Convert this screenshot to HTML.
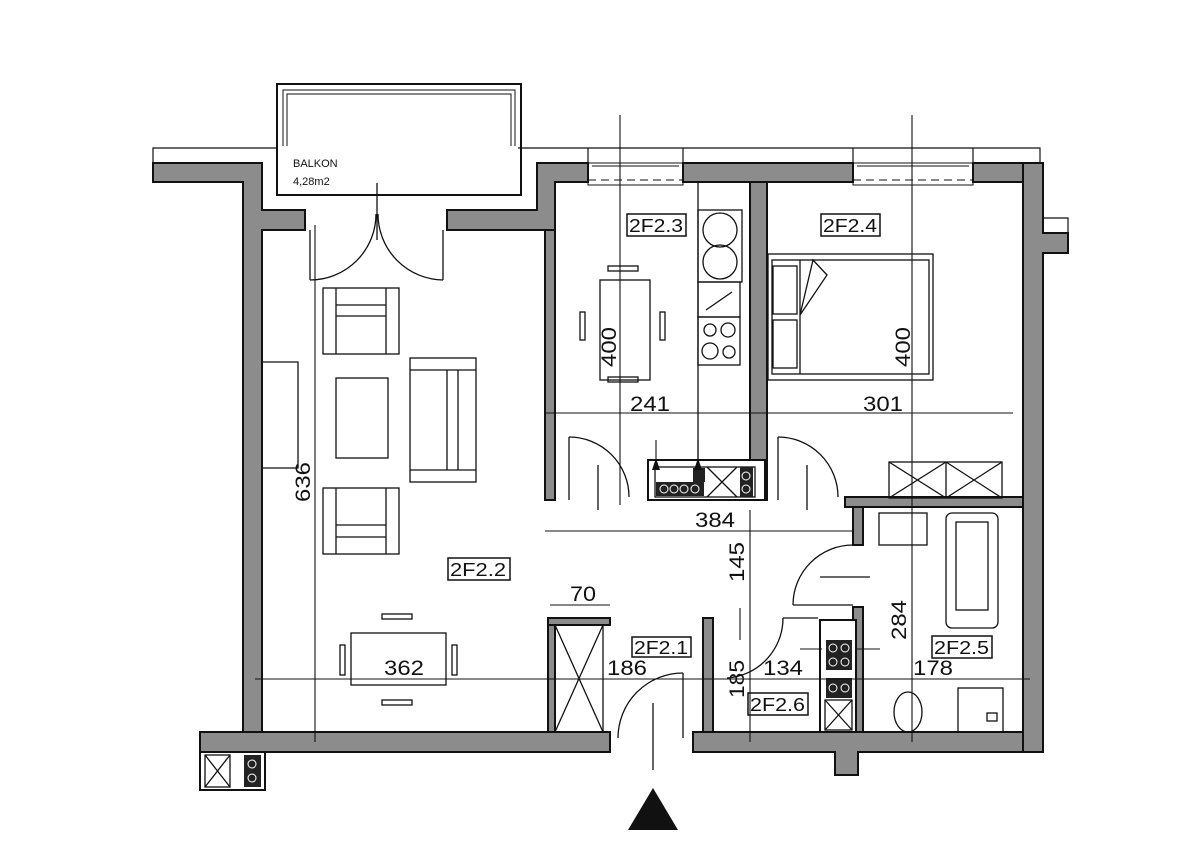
<!DOCTYPE html>
<html><head><meta charset="utf-8"><style>
html,body{margin:0;padding:0;background:#fff;}
svg{display:block;}
text{font-family:"Liberation Sans",sans-serif;fill:#111;}
</style></head><body>
<svg width="1200" height="862" viewBox="0 0 1200 862" xmlns="http://www.w3.org/2000/svg">
<g fill="none" stroke="#111" stroke-width="1.2">
  <polyline points="153,163 153,148 278,148"/>
  <line x1="518" y1="148" x2="588" y2="148"/>
  <line x1="588" y1="148" x2="683" y2="148"/><line x1="683" y1="148" x2="683" y2="163"/>
  <line x1="588" y1="148" x2="588" y2="163"/>
  <line x1="683" y1="148" x2="853" y2="148"/>
  <line x1="853" y1="148" x2="853" y2="163"/>
  <polyline points="853,148 1040,148 1040,218 1068,218 1068,233"/>
  <line x1="973" y1="148" x2="973" y2="163"/>
  <rect x="277" y="84" width="244" height="111" stroke-width="2"/>
  <polyline points="283,146 283,90 515,90 515,146" stroke-width="1"/>
  <polyline points="287,146 287,94 511,94 511,146" stroke-width="1"/>
</g>
<text x="293" y="167" font-size="11">BALKON</text>
<text x="293" y="185" font-size="11">4,28m2</text>

<g fill="#8c8c8c" stroke="#111" stroke-width="2">
  <polygon points="153,163 262,163 262,210 305,210 305,230 262,230 262,732 243,732 243,182 153,182"/>
  <polygon points="447,210 537,210 537,163 588,163 588,182 555,182 555,230 447,230"/>
  <rect x="683" y="163" width="170" height="19"/>
  <rect x="973" y="163" width="50" height="19"/>
  <polygon points="1023,163 1043,163 1043,233 1068,233 1068,253 1043,253 1043,752 1023,752"/>
  <rect x="750" y="182" width="17" height="318"/>
  <rect x="545" y="230" width="10" height="270"/>
  <rect x="200" y="732" width="410" height="20"/>
  <polygon points="693,732 1023,732 1023,752 858,752 858,775 835,775 835,752 693,752"/>
  <rect x="200" y="752" width="65" height="38" fill="#fff"/>
  <rect x="845" y="497" width="178" height="10"/>
  <rect x="853" y="507" width="10" height="38"/>
  <rect x="853" y="607" width="10" height="125"/>
  <rect x="548" y="618" width="62" height="7"/>
  <rect x="548" y="625" width="7" height="107"/>
  <rect x="703" y="618" width="10" height="114"/>
  <rect x="648" y="460" width="117" height="40" fill="#fff"/>
  <rect x="820" y="620" width="36" height="112" fill="#fff"/>
</g>
<g fill="none" stroke="#111" stroke-width="1">
  <rect x="588" y="163" width="95" height="22"/>
  <line x1="592" y1="166" x2="679" y2="166"/>
  <line x1="588" y1="180" x2="683" y2="180" stroke-dasharray="8,5"/>
  <rect x="853" y="163" width="120" height="22"/>
  <line x1="857" y1="166" x2="969" y2="166"/>
  <line x1="853" y1="180" x2="973" y2="180" stroke-dasharray="8,5"/>
</g>

<g fill="none" stroke="#111" stroke-width="1.3">
  <line x1="377" y1="183" x2="377" y2="240"/>
  <path d="M310,280 A66,66 0 0 0 376,214"/>
  <path d="M443,280 A66,66 0 0 1 378,214"/>
  <line x1="310" y1="230" x2="310" y2="280"/><line x1="443" y1="230" x2="443" y2="280"/>
  <rect x="323" y="288" width="76" height="66"/>
  <line x1="336" y1="288" x2="336" y2="354"/><line x1="386" y1="288" x2="386" y2="354"/>
  <line x1="336" y1="305" x2="386" y2="305"/><line x1="336" y1="316" x2="386" y2="316"/>
  <rect x="336" y="378" width="52" height="80"/>
  <rect x="410" y="358" width="66" height="124"/>
  <line x1="410" y1="370" x2="476" y2="370"/><line x1="410" y1="470" x2="476" y2="470"/>
  <line x1="447" y1="370" x2="447" y2="470"/><line x1="458" y1="370" x2="458" y2="470"/>
  <rect x="323" y="488" width="76" height="66"/>
  <line x1="336" y1="488" x2="336" y2="554"/><line x1="386" y1="488" x2="386" y2="554"/>
  <line x1="336" y1="525" x2="386" y2="525"/><line x1="336" y1="537" x2="386" y2="537"/>
  <polyline points="263,362 298,362 298,468 263,468"/>
  <rect x="351" y="633" width="95" height="52"/>
  <rect x="382" y="614" width="30" height="5"/><rect x="382" y="700" width="30" height="5"/>
  <rect x="340" y="645" width="5" height="30"/><rect x="452" y="645" width="5" height="30"/>
  <rect x="600" y="280" width="50" height="100"/>
  <rect x="608" y="266" width="30" height="5"/><rect x="608" y="377" width="30" height="5"/>
  <rect x="580" y="312" width="5" height="28"/><rect x="660" y="312" width="5" height="28"/>
  <line x1="698" y1="182" x2="698" y2="460"/>
  <rect x="698" y="210" width="44" height="72"/>
  <circle cx="720" cy="230" r="17"/><circle cx="720" cy="262" r="17"/>
  <rect x="698" y="282" width="42" height="35"/>
  <line x1="706" y1="310" x2="732" y2="292"/>
  <rect x="698" y="317" width="42" height="48"/>
  <circle cx="710" cy="330" r="6"/><circle cx="728" cy="330" r="7"/>
  <circle cx="710" cy="351" r="8"/><circle cx="729" cy="352" r="6"/>
  <rect x="768" y="254" width="165" height="126"/>
  <rect x="772" y="260" width="157" height="114"/>
  <line x1="800" y1="260" x2="800" y2="374"/>
  <rect x="773" y="266" width="24" height="48"/><rect x="773" y="320" width="24" height="48"/>
  <polyline points="800,315 813,260 827,275 800,315"/>
  <rect x="889" y="462" width="113" height="36"/>
  <line x1="946" y1="462" x2="946" y2="498"/>
  <path d="M889,462 L946,498 M946,462 L889,498 M946,462 L1002,498 M1002,462 L946,498"/>
  <path d="M569,437 A60,60 0 0 1 629,497"/>
  <line x1="569" y1="437" x2="569" y2="500"/>
  <line x1="598" y1="465" x2="598" y2="510"/>
  <path d="M778,437 A60,60 0 0 1 838,497"/>
  <line x1="778" y1="437" x2="778" y2="500"/>
  <line x1="807" y1="465" x2="807" y2="510"/>
  <path d="M853,545 A60,60 0 0 0 793,605"/>
  <line x1="793" y1="605" x2="853" y2="605"/>
  <line x1="820" y1="577" x2="870" y2="577"/>
  <rect x="879" y="513" width="48" height="32"/>
  <rect x="946" y="513" width="52" height="115" rx="6"/>
  <rect x="956" y="522" width="32" height="88"/>
  <ellipse cx="908" cy="712" rx="14" ry="20"/>
  <rect x="958" y="688" width="45" height="44"/>
  <rect x="987" y="713" width="10" height="8"/>
  <path d="M683,673 A65,65 0 0 0 618,738"/>
  <line x1="683" y1="673" x2="683" y2="738"/>
  <line x1="653" y1="703" x2="653" y2="770"/>
  <path d="M783,618 A60,60 0 0 1 727,678"/>
  <line x1="783" y1="618" x2="818" y2="618"/>
  <rect x="555" y="625" width="48" height="107"/>
  <path d="M555,625 L603,732 M603,625 L555,732"/>
  <rect x="655" y="467" width="100" height="30"/>
  <path d="M707,467 L737,497 M737,467 L707,497"/>
  <rect x="825" y="700" width="27" height="30"/>
  <path d="M825,700 L852,730 M852,700 L825,730"/>
  <rect x="205" y="755" width="25" height="32"/>
  <path d="M205,755 L230,787 M230,755 L205,787"/>
</g>
<g fill="#222">
  <rect x="656" y="482" width="48" height="14"/><rect x="693" y="468" width="12" height="14"/>
  <rect x="740" y="467" width="13" height="30"/>
  <rect x="826" y="640" width="26" height="30"/><rect x="826" y="678" width="26" height="20"/>
  <rect x="244" y="755" width="17" height="32"/>
</g>
<g fill="none" stroke="#fff" stroke-width="1">
  <circle cx="664" cy="489" r="4"/><circle cx="674" cy="489" r="4"/><circle cx="684" cy="489" r="4"/><circle cx="695" cy="489" r="4"/>
  <circle cx="746" cy="476" r="4"/><circle cx="746" cy="489" r="4"/>
  <circle cx="833" cy="648" r="4"/><circle cx="845" cy="648" r="4"/><circle cx="833" cy="662" r="4"/><circle cx="845" cy="662" r="4"/>
  <circle cx="833" cy="688" r="4"/><circle cx="845" cy="688" r="4"/>
  <circle cx="252" cy="764" r="4"/><circle cx="252" cy="778" r="4"/>
</g>

<g stroke="#111" stroke-width="1.1" fill="none">
  <line x1="315" y1="225" x2="315" y2="742"/>
  <line x1="620" y1="115" x2="620" y2="505"/>
  <line x1="912" y1="115" x2="912" y2="742"/>
  <line x1="545" y1="413" x2="1013" y2="413"/>
  <line x1="545" y1="531" x2="853" y2="531"/>
  <line x1="255" y1="679" x2="1030" y2="679"/>
  <line x1="750" y1="510" x2="750" y2="742"/>
  <line x1="550" y1="605" x2="610" y2="605"/>
  <line x1="740" y1="608" x2="740" y2="640"/>
  <line x1="698" y1="440" x2="698" y2="470"/><line x1="656" y1="440" x2="656" y2="470"/>
  <line x1="800" y1="649" x2="822" y2="649"/><line x1="855" y1="649" x2="880" y2="649"/>
</g>
<g fill="#111">
  <polygon points="628,830 678,830 653,788"/>
  <polygon points="652,470 660,470 656,458"/><polygon points="694,470 702,470 698,458"/>
</g>

<g font-size="21">
  <text x="630" y="411" textLength="40" lengthAdjust="spacingAndGlyphs">241</text>
  <text x="863" y="411" textLength="40" lengthAdjust="spacingAndGlyphs">301</text>
  <text x="695" y="527" textLength="40" lengthAdjust="spacingAndGlyphs">384</text>
  <text x="384" y="675" textLength="40" lengthAdjust="spacingAndGlyphs">362</text>
  <text x="607" y="675" textLength="40" lengthAdjust="spacingAndGlyphs">186</text>
  <text x="763" y="675" textLength="40" lengthAdjust="spacingAndGlyphs">134</text>
  <text x="913" y="675" textLength="40" lengthAdjust="spacingAndGlyphs">178</text>
  <text x="570" y="601" textLength="26" lengthAdjust="spacingAndGlyphs">70</text>
  <text transform="translate(616,367) rotate(-90)" textLength="40" lengthAdjust="spacingAndGlyphs">400</text>
  <text transform="translate(910,367) rotate(-90)" textLength="40" lengthAdjust="spacingAndGlyphs">400</text>
  <text transform="translate(310,502) rotate(-90)" textLength="40" lengthAdjust="spacingAndGlyphs">636</text>
  <text transform="translate(744,582) rotate(-90)" textLength="40" lengthAdjust="spacingAndGlyphs">145</text>
  <text transform="translate(906,640) rotate(-90)" textLength="40" lengthAdjust="spacingAndGlyphs">284</text>
  <text transform="translate(744,698) rotate(-90)" textLength="38" lengthAdjust="spacingAndGlyphs">185</text>
</g>
<g fill="none">
  <rect x="627" y="214" width="59" height="22" stroke="#111" stroke-width="1.5"/>
  <rect x="821" y="214" width="59" height="22" stroke="#111" stroke-width="1.5"/>
  <rect x="448" y="558" width="62" height="22" stroke="#111" stroke-width="1.5"/>
  <rect x="632" y="637" width="59" height="20" stroke="#111" stroke-width="1.5"/>
  <rect x="748" y="693" width="60" height="22" stroke="#111" stroke-width="1.5"/>
  <rect x="932" y="636" width="60" height="22" stroke="#111" stroke-width="1.5"/>
</g>
<g font-size="18">
  <text x="629" y="232" textLength="54" lengthAdjust="spacingAndGlyphs">2F2.3</text>
  <text x="823" y="232" textLength="54" lengthAdjust="spacingAndGlyphs">2F2.4</text>
  <text x="450" y="576" textLength="56" lengthAdjust="spacingAndGlyphs">2F2.2</text>
  <text x="634" y="654" textLength="54" lengthAdjust="spacingAndGlyphs">2F2.1</text>
  <text x="750" y="711" textLength="55" lengthAdjust="spacingAndGlyphs">2F2.6</text>
  <text x="934" y="654" textLength="55" lengthAdjust="spacingAndGlyphs">2F2.5</text>
</g>
</svg>
</body></html>
